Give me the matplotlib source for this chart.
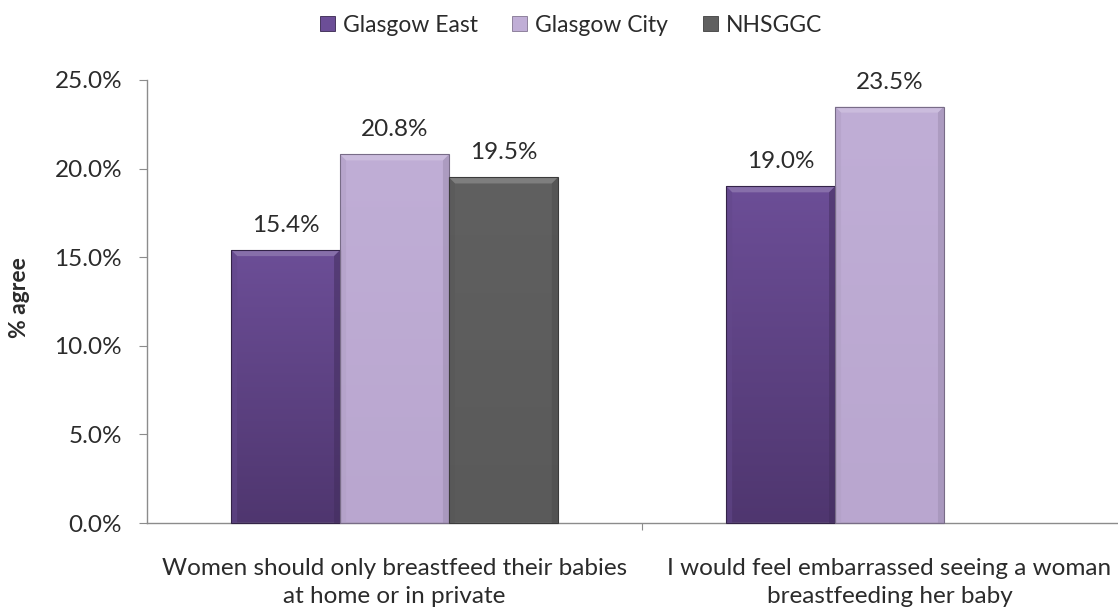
import numpy as np
import matplotlib
matplotlib.use("Agg")
import matplotlib.pyplot as plt
from matplotlib.patches import Rectangle, Polygon
from matplotlib.colors import LinearSegmentedColormap
from matplotlib.transforms import IdentityTransform

plt.rcParams['font.family'] = ['Lato', 'DejaVu Sans']

categories = ["Women should only breastfeed their babies\nat home or in private",
              "I would feel embarrassed seeing a woman\nbreastfeeding her baby"]
series = ["Glasgow East", "Glasgow City", "NHSGGC"]
values = {
    "Glasgow East": [15.4, 19.0],
    "Glasgow City": [20.8, 23.5],
    "NHSGGC": [19.5, np.nan],
}
yticks = [0, 5, 10, 15, 20, 25]

# colours: (top, bottom) of each bar's vertical gradient
grad = {
    "Glasgow East": ("#6c4e97", "#4f366f"),
    "Glasgow City": ("#c0aed6", "#b9a6cf"),
    "NHSGGC": ("#606060", "#5a5a5a"),
}
text_col = "#2b2b2b"
axis_col = "#8c8c8c"
FS = 17.5

W, H, DPI = 1118, 610, 100
PX = 72 / DPI  # points per pixel
fig = plt.figure(figsize=(W / DPI, H / DPI), dpi=DPI)
ax_left, ax_bottom = 147 / W, (H - 523) / H
ax_w, ax_h = 990 / W, (523 - 80) / H
ax = fig.add_axes([ax_left, ax_bottom, ax_w, ax_h])

x = np.arange(len(categories)) + 0.5
bw = 0.22
offsets = [-bw, 0.0, bw]

ax.set_xlim(0, 2)
ax.set_ylim(0, 25)

bars = []
for s, off in zip(series, offsets):
    vals = np.array(values[s], dtype=float)
    for xi, v in zip(x, vals):
        if np.isnan(v):
            continue
        r = Rectangle((xi + off - bw / 2, 0), bw, v, facecolor=grad[s][0],
                      edgecolor="none", zorder=2)
        ax.add_patch(r)
        cmap = LinearSegmentedColormap.from_list(s, [grad[s][1], grad[s][0]])
        im = ax.imshow(np.linspace(0, 1, 256).reshape(-1, 1), cmap=cmap,
                       origin="lower", aspect="auto",
                       extent=(xi + off - bw / 2, xi + off + bw / 2, 0, v),
                       zorder=2.1)
        im.set_clip_path(r)
        bars.append((s, xi + off, v))
        ax.annotate(f"{v:.1f}%", (xi + off, v), xytext=(0, 18 * PX),
                    textcoords="offset points", ha="center", va="baseline",
                    fontsize=FS, color=text_col, zorder=5)

ax.set_xlim(0, 2)
ax.set_ylim(0, 25)
fig.canvas.draw()

# bevelled edges drawn in pixel space around each bar
def shade(c, f):
    c = np.array(matplotlib.colors.to_rgb(c))
    if f > 0:
        return tuple(c + (1 - c) * f)
    return tuple(c * (1 + f))

bev = 6
for s, xc, v in bars:
    (x0, y0) = ax.transData.transform((xc - bw / 2, 0))
    (x1, y1) = ax.transData.transform((xc + bw / 2, v))
    top, bot = grad[s]
    polys = [
        ([(x0, y1), (x1, y1), (x1 - bev, y1 - bev), (x0 + bev, y1 - bev)], shade(top, 0.35)),
        ([(x0, y0), (x0, y1), (x0 + bev, y1 - bev), (x0 + bev, y0)], shade(top, -0.08)),
        ([(x1, y0), (x1, y1), (x1 - bev, y1 - bev), (x1 - bev, y0)], shade(bot, -0.15)),
    ]
    for pts, col in polys:
        p = Polygon(pts, closed=True, facecolor=col, edgecolor="none", alpha=0.55,
                    transform=IdentityTransform(), zorder=3)
        fig.add_artist(p)
    outline = Rectangle((x0, y0), x1 - x0, y1 - y0, fill=False,
                        edgecolor=shade(bot, -0.35), linewidth=0.8,
                        transform=IdentityTransform(), zorder=3.5)
    fig.add_artist(outline)

ax.set_yticks(yticks)
ax.set_yticklabels([f"{t:.1f}%" for t in yticks])
ax.set_xticks([1.0])
ax.set_xticklabels([])
ax.tick_params(axis="y", direction="out", length=8 * PX, color=axis_col,
               labelsize=FS, labelcolor=text_col, pad=17 * PX)
ax.tick_params(axis="x", direction="out", length=7 * PX, color=axis_col)
for sp in ["top", "right"]:
    ax.spines[sp].set_visible(False)
for sp in ["left", "bottom"]:
    ax.spines[sp].set_color(axis_col)
    ax.spines[sp].set_linewidth(1.0)

# two-line category labels, each line placed on its own baseline
for xi, lab in zip(x, categories):
    for i, line in enumerate(lab.split("\n")):
        ax.annotate(line, (xi, 0), xycoords=("data", "axes fraction"),
                    xytext=(0, -(52 + 28 * i) * PX), textcoords="offset points",
                    ha="center", va="baseline", fontsize=FS, color=text_col,
                    annotation_clip=False)

fig.text(20 / W, 1 - 298 / H, "% agree", rotation=90, ha="center", va="center",
         fontsize=16.5, fontweight="bold", color=text_col)

handles = [Rectangle((0, 0), 1, 1, facecolor=grad[s][0], edgecolor=shade(grad[s][1], -0.3),
                     linewidth=0.6) for s in series]
fig.legend(handles, series, loc="center", bbox_to_anchor=(571 / W, 1 - 25 / H),
           ncol=3, frameon=False, fontsize=16.5, handlelength=0.65, handleheight=0.65,
           handletextpad=0.35, columnspacing=1.5, labelcolor=text_col)

fig.savefig("out.png", dpi=DPI)
